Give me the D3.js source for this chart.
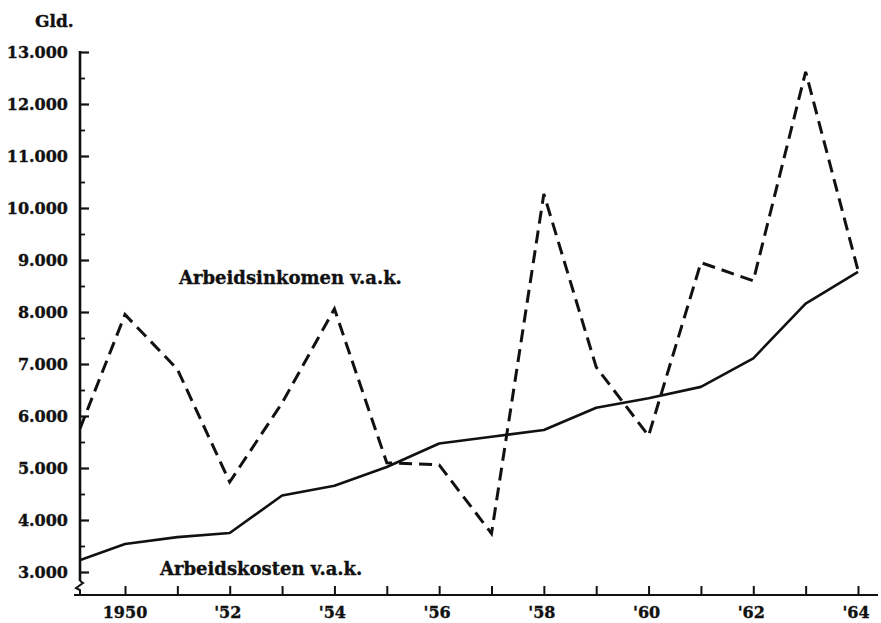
<!DOCTYPE html>
<html>
<head>
<meta charset="utf-8">
<script src="https://cdn.jsdelivr.net/npm/d3@7"></script>
<style>
  html, body { margin: 0; padding: 0; background: #fff; }
  svg { display: block; }
  text { font-family: "DejaVu Serif", "Liberation Serif", serif; font-weight: bold; fill: #111; stroke: #111; stroke-width: 0.35px; }
</style>
</head>
<body>
<svg id="chart" width="881" height="623"></svg>
<script>
// ---- data ----
const years = [1949, 1950, 1951, 1952, 1953, 1954, 1955, 1956, 1957, 1958, 1959, 1960, 1961, 1962, 1963, 1964];
const arbeidsinkomen = [5400, 7950, 6900, 4730, 6250, 8060, 5100, 5060, 3740, 10270, 6940, 5620, 8950, 8600, 12620, 8800];
const arbeidskosten = [3180, 3540, 3670, 3750, 4470, 4660, 5020, 5470, 5600, 5730, 6160, 6340, 6560, 7110, 8160, 8770];
const yTicks = [3000, 4000, 5000, 6000, 7000, 8000, 9000, 10000, 11000, 12000, 13000];
const yMinorTicks = [3500, 4500, 5500, 6500, 7500, 8500, 9500, 10500, 11500, 12500];
const xTicks = [1950, 1951, 1952, 1953, 1954, 1955, 1956, 1957, 1958, 1959, 1960, 1961, 1962, 1963, 1964];
const xTickLabels = {1950: "1950", 1952: "'52", 1954: "'54", 1956: "'56", 1958: "'58", 1960: "'60", 1962: "'62", 1964: "'64"};
const yUnit = "Gld.";
const labelInkomen = "Arbeidsinkomen v.a.k.";
const labelKosten = "Arbeidskosten v.a.k.";

// ---- layout ----
const svg = d3.select("#chart");
const axisX = 80, axisBottom = 595;
const x = d3.scaleLinear().domain([1950, 1964]).range([125, 858]);
const y = d3.scaleLinear().domain([3000, 13000]).range([572, 52]);

svg.append("defs").append("clipPath").attr("id", "plotclip")
  .append("rect").attr("x", axisX).attr("y", 0).attr("width", 881 - axisX).attr("height", axisBottom);

// y axis line with break
svg.append("line").attr("x1", axisX).attr("x2", axisX).attr("y1", y(13000) - 1).attr("y2", 581)
  .attr("stroke", "#111").attr("stroke-width", 2.6);
svg.append("path").attr("d", `M${axisX},581 L${axisX+3},583 L${axisX-4},588 L${axisX},590 L${axisX},${axisBottom}`)
  .attr("fill", "none").attr("stroke", "#111").attr("stroke-width", 2);
// x axis line
svg.append("line").attr("x1", 74).attr("x2", 878).attr("y1", axisBottom).attr("y2", axisBottom)
  .attr("stroke", "#111").attr("stroke-width", 2.2);

// y ticks (major + minor, pointing inward)
const yAxis = d3.axisRight(y).tickValues(yTicks).tickSize(9).tickFormat("");
const gy = svg.append("g").attr("transform", `translate(${axisX},0)`).call(yAxis);
gy.select(".domain").remove();
gy.selectAll(".tick line").attr("stroke", "#111").attr("stroke-width", 2.2);
const yAxisMinor = d3.axisRight(y).tickValues(yMinorTicks).tickSize(5).tickFormat("");
const gym = svg.append("g").attr("transform", `translate(${axisX},0)`).call(yAxisMinor);
gym.select(".domain").remove();
gym.selectAll(".tick line").attr("stroke", "#111").attr("stroke-width", 1.8);

// y tick labels
svg.append("g").selectAll("text").data(yTicks).join("text")
  .attr("x", 68).attr("y", d => y(d)).attr("dy", "0.36em")
  .attr("text-anchor", "end").attr("font-size", 16)
  .text(d => d3.format(",")(d).replace(",", "."));

svg.append("text").attr("x", 35).attr("y", 27).attr("font-size", 17).text(yUnit);

// x ticks (pointing up)
const xAxis = d3.axisTop(x).tickValues(xTicks).tickSize(9).tickFormat("");
const gx = svg.append("g").attr("transform", `translate(0,${axisBottom})`).call(xAxis);
gx.select(".domain").remove();
gx.selectAll(".tick line").attr("stroke", "#111").attr("stroke-width", 2);

svg.append("g").selectAll("text").data(xTicks.filter(d => xTickLabels[d])).join("text")
  .attr("x", d => x(d) - (d === 1950 ? 0 : 2)).attr("y", 618).attr("text-anchor", "middle")
  .attr("font-size", 16).text(d => xTickLabels[d]);

// lines
const line = d3.line().x((d, i) => x(years[i])).y(d => y(d));
const plot = svg.append("g").attr("clip-path", "url(#plotclip)");
plot.append("path").datum(arbeidsinkomen).attr("d", line)
  .attr("fill", "none").attr("stroke", "#111").attr("stroke-width", 3)
  .attr("stroke-dasharray", "13,7").attr("stroke-linejoin", "miter");
plot.append("path").datum(arbeidskosten).attr("d", line)
  .attr("fill", "none").attr("stroke", "#111").attr("stroke-width", 2.6)
  .attr("stroke-linejoin", "round");

// series labels
svg.append("text").attr("x", 179).attr("y", 284).attr("font-size", 18).text(labelInkomen);
svg.append("text").attr("x", 160).attr("y", 575).attr("font-size", 18).text(labelKosten);
</script>
</body>
</html>
